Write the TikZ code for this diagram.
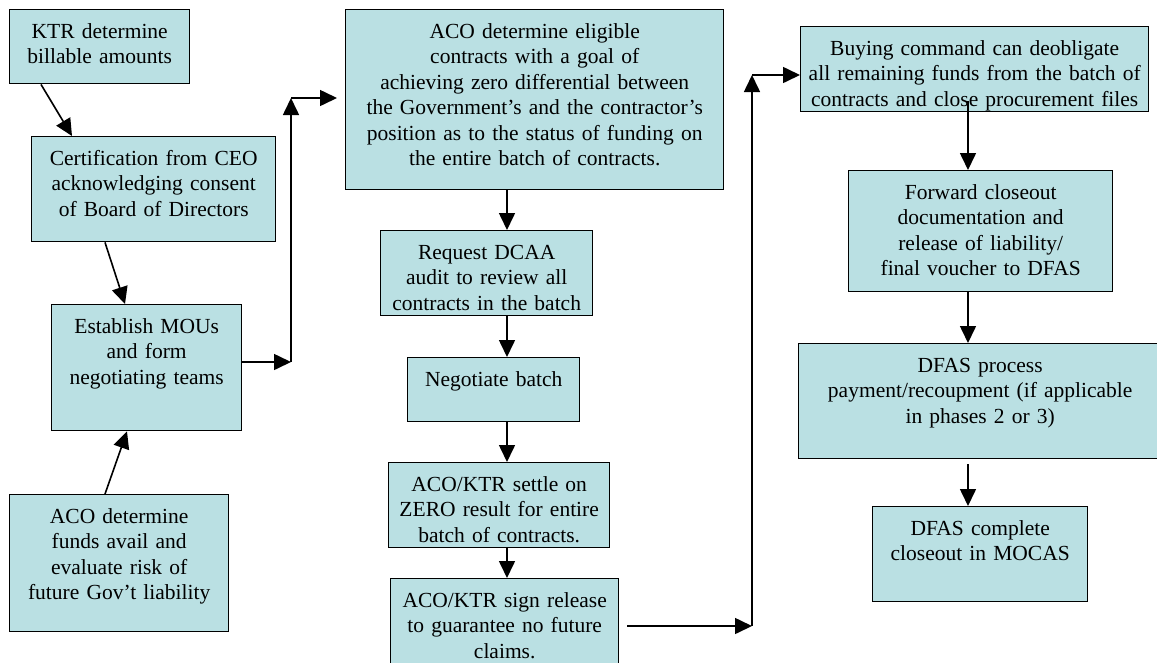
\documentclass[tikz,border=0pt]{standalone}
\usepackage{fontspec}
\setmainfont{Liberation Serif}
\usetikzlibrary{arrows.meta,calc}

\definecolor{boxfill}{RGB}{186,224,227}

\begin{document}
\begin{tikzpicture}[x=1pt, y=-1pt,
    stage/.style={draw, line width=1.4pt, fill=boxfill, anchor=north west, align=center, inner xsep=2pt, inner ysep=0pt, text height=28.5pt, font=\fontsize{21.5}{25.5}\selectfont},
    arr/.style={-{Triangle[length=17pt,width=16pt]}, line width=1.6pt}
]
\useasboundingbox (0,0) rectangle (1157,662);
\clip (0,0) rectangle (1157,662);

% left column
\node[stage, text width=176pt, text depth=45.5pt] (ktr) at (9,9) {KTR determine\\billable amounts};
\node[stage, text width=240pt, text depth=76.5pt] (cert) at (31,136) {Certification from CEO\\acknowledging consent\\of Board of Directors};
\node[stage, text width=186pt, text depth=97.5pt] (est) at (51,304) {Establish MOUs\\and form\\negotiating teams};
\node[stage, text width=215pt, text depth=108.5pt] (funds) at (9,494) {ACO determine\\funds avail and\\evaluate risk of\\future Gov’t liability};

% middle column
\node[stage, text width=374pt, text depth=151.5pt] (elig) at (345,9) {ACO determine eligible\\contracts with a goal of\\achieving zero differential between\\the Government’s and the contractor’s\\position as to the status of funding on\\the entire batch of contracts.};
\node[stage, text width=208pt, text depth=56.5pt] (audit) at (380,230) {Request DCAA\\audit to review all\\contracts in the batch};
\node[stage, text width=168pt, text depth=35.5pt] (nego) at (407,357) {Negotiate batch};
\node[stage, text width=217pt, text depth=56.5pt] (settle) at (388,462) {ACO/KTR settle on\\ZERO result for entire\\batch of contracts.};
\node[stage, text width=224pt, text depth=78.5pt] (sign) at (390,578) {ACO/KTR sign release\\to guarantee no future\\claims.};

% right column
\node[stage, text width=344pt, text depth=56.5pt] (deob) at (800,26) {Buying command can deobligate\\all remaining funds from the batch of\\contracts and close procurement files};
\node[stage, text width=260pt, text depth=92.5pt] (fwd) at (848,170) {Forward closeout\\documentation and\\release of liability/\\final voucher to DFAS};
\node[stage, text width=359pt, text depth=86.5pt] (pay) at (798,343) {DFAS process\\payment/recoupment (if applicable\\in phases 2 or 3)};
\node[stage, text width=211pt, text depth=66.5pt] (mocas) at (872,506) {DFAS complete\\closeout in MOCAS};

\coordinate (jA) at (291,362);
\coordinate (jB) at (291,98);
\coordinate (jC) at (752,626);
\coordinate (jD) at (752,75);
\coordinate (colA) at (507,0);
\coordinate (colB) at (968,0);

\draw[arr] ([xshift=32pt]ktr.south west) -- ([xshift=41pt]cert.north west);
\draw[arr] ([xshift=74pt]cert.south west) -- ([xshift=74pt]est.north west);
\draw[arr] ([xshift=96pt]funds.north west) -- ([xshift=76pt]est.south west);

\draw[arr] (est.east |- jA) -- (jA);
\draw[arr] (jA) -- (jB);
\draw[arr, shorten >=8pt] (jB) -- (jB -| elig.west);

\draw[arr] (elig.south -| colA) -- (audit.north -| colA);
\draw[arr] (audit.south -| colA) -- (nego.north -| colA);
\draw[arr] (nego.south -| colA) -- (settle.north -| colA);
\draw[arr] (settle.south -| colA) -- (sign.north -| colA);

\draw[arr, shorten <=8pt] (sign.east |- jC) -- (jC);
\draw[arr] (jC) -- (jD);
\draw[arr] (jD) -- (jD -| deob.west);

\draw[arr] ($(deob.south -| colB)+(0,-11)$) -- (fwd.north -| colB);
\draw[arr] (fwd.south -| colB) -- (pay.north -| colB);
\draw[arr, shorten <=5pt] (pay.south -| colB) -- (mocas.north -| colB);
\end{tikzpicture}
\end{document}
